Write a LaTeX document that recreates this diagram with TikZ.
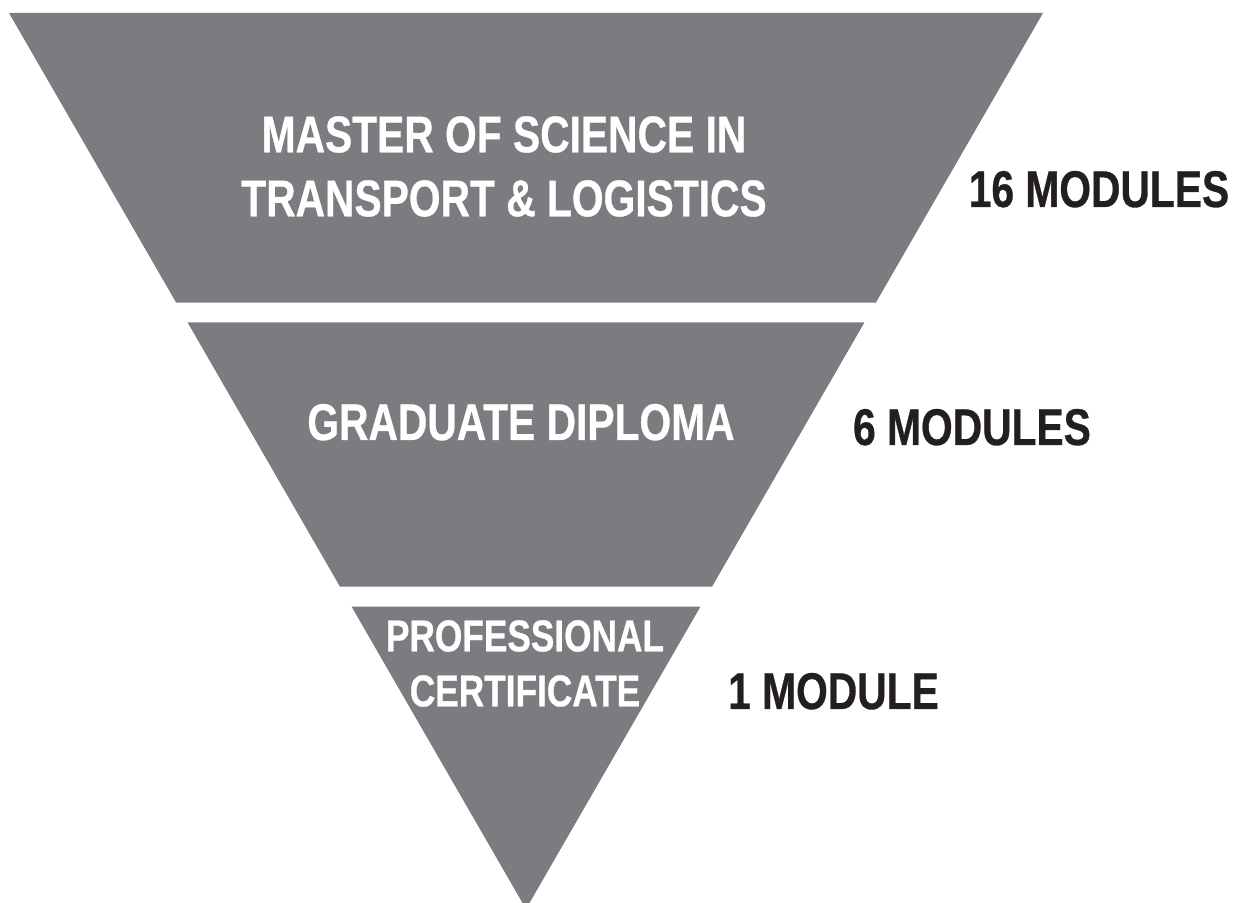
\documentclass[tikz,border=0pt]{standalone}
\usepackage{fontspec}
\setmainfont{Liberation Sans}[FakeStretch=0.79, FakeBold=0.6]
\definecolor{pyrgray}{HTML}{7B7C80}
\definecolor{labeldark}{HTML}{231F20}
\tikzset{
  band/.style={fill=pyrgray, draw=none},
  intext/.style={text=white, inner sep=0pt, align=center, font=\bfseries\fontsize{25.8}{32}\selectfont},
  smalltext/.style={text=white, inner sep=0pt, align=center, font=\bfseries\fontsize{22.3}{27.5}\selectfont},
  sidetext/.style={text=labeldark, inner sep=0pt, anchor=base, font=\bfseries\fontsize{25.8}{32}\selectfont}
}
\begin{document}
\begin{tikzpicture}[x=0.5pt, y=-0.5pt]
  \useasboundingbox (0,0) rectangle (1249,903);
  \clip (0,0) rectangle (1249,903);
  % bands
  \fill[band] (9,13) -- (1043,13) -- (875.8,302.7) -- (176.2,302.7) -- cycle;
  \fill[band] (187.5,322.3) -- (864.5,322.3) -- (712,586.7) -- (340,586.7) -- cycle;
  \fill[band] (351.6,606.7) -- (700.4,606.7) -- (526,909) -- cycle;
  % texts inside
  \node[intext] (msc) at (504,166.5) {MASTER OF SCIENCE IN\\TRANSPORT \& LOGISTICS};
  \node[intext, anchor=base] (gd) at (521,440) {GRADUATE DIPLOMA};
  \node[smalltext] (pc) at (525,663.5) {PROFESSIONAL\\CERTIFICATE};
  % side labels
  \node[sidetext] (m16) at (1099,207) {16 MODULES};
  \node[sidetext] (m6) at (972,445) {6 MODULES};
  \node[sidetext] (m1) at (833.5,709) {1 MODULE};
\end{tikzpicture}
\end{document}
